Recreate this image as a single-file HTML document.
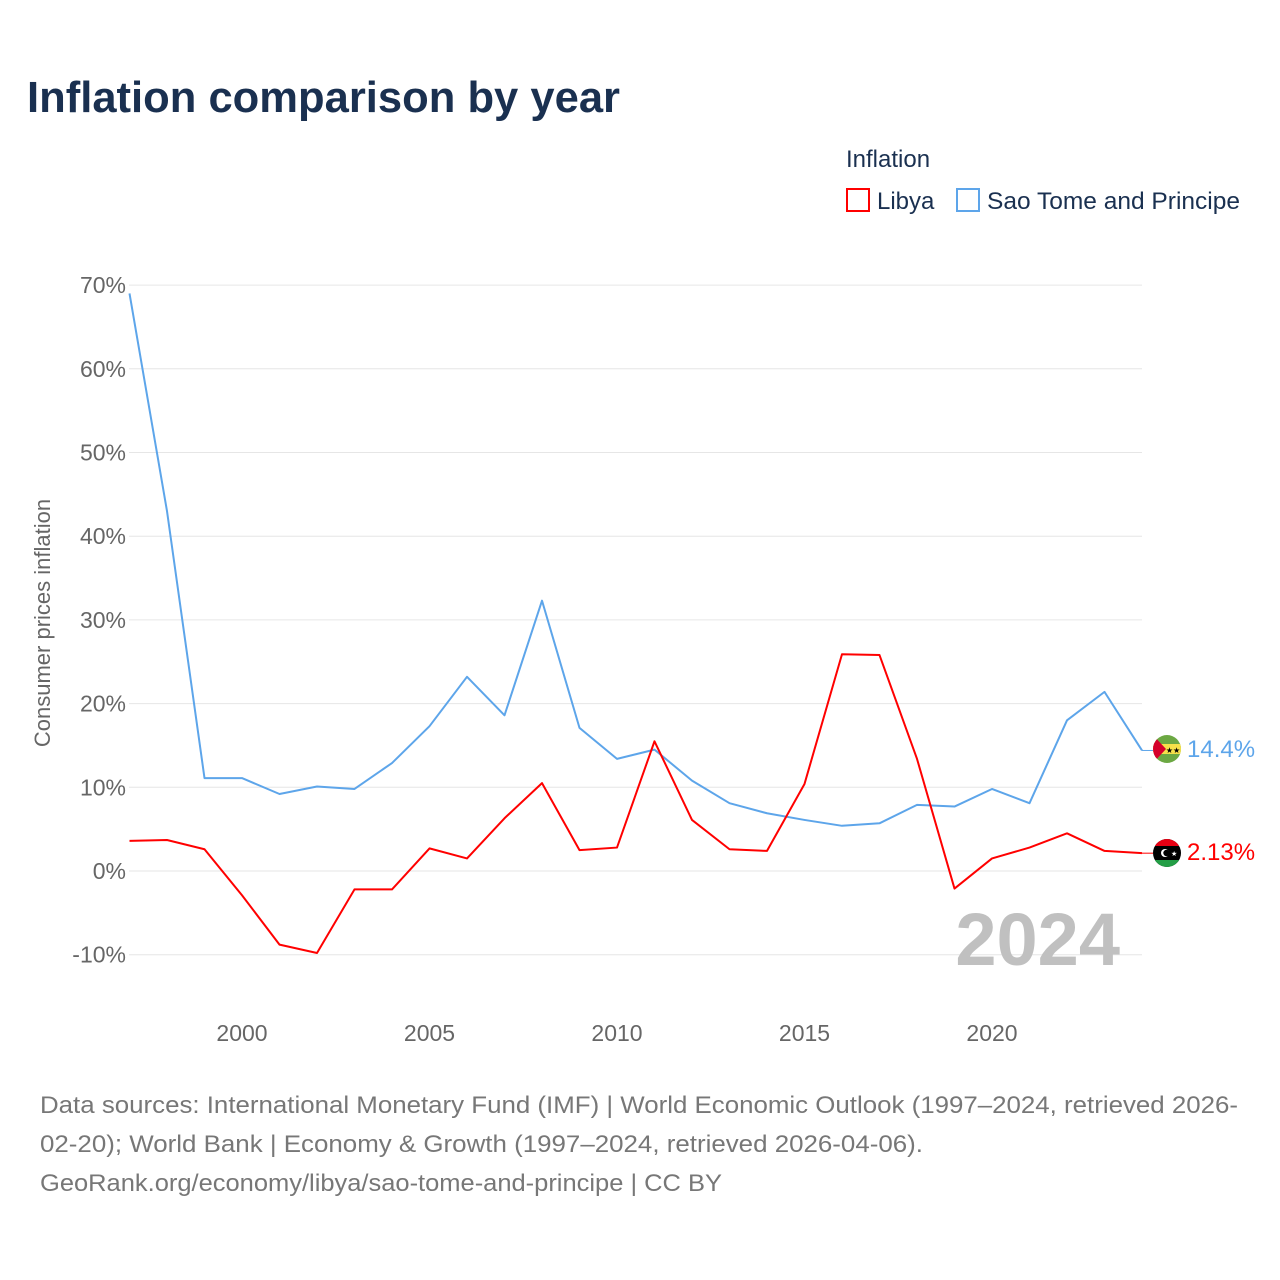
<!DOCTYPE html>
<html><head><meta charset="utf-8">
<style>
body{margin:0;background:#fff;font-family:"Liberation Sans",sans-serif;}
svg{display:block}
</style></head>
<body>
<svg id="chart" width="1280" height="1280" viewBox="0 0 1280 1280">
<text x="27" y="112" font-size="44" font-weight="bold" fill="#1a3050" textLength="593" lengthAdjust="spacingAndGlyphs">Inflation comparison by year</text>
<text x="846" y="167" font-size="24" fill="#1a3050">Inflation</text>
<g><rect x="847" y="189" width="22" height="22" fill="none" stroke="#ff0000" stroke-width="2"/><text x="877" y="209" font-size="24" fill="#1a3050">Libya</text></g>
<g><rect x="957" y="189" width="22" height="22" fill="none" stroke="#5da5ea" stroke-width="2"/><text x="987" y="209" font-size="24" fill="#1a3050" textLength="253" lengthAdjust="spacingAndGlyphs">Sao Tome and Principe</text></g>
<g id="grid"></g>
<text x="1120" y="965" font-size="74" font-weight="bold" fill="#c0c0c0" text-anchor="end">2024</text>
<text transform="translate(50,623) rotate(-90)" font-size="22" fill="#666" text-anchor="middle">Consumer prices inflation</text>
<g id="series"></g>
<g>
<clipPath id="c1"><circle cx="1167" cy="749" r="14"/></clipPath>
<g clip-path="url(#c1)"><rect x="1153" y="735" width="28" height="28" fill="#6ca843"/><rect x="1153" y="744" width="28" height="10" fill="#f5e04a"/><polygon points="1153,735 1166,749 1153,763" fill="#d5002b"/><text x="1173" y="753" font-size="8" fill="#000" text-anchor="middle">★★</text></g></g>
<g>
<clipPath id="c2"><circle cx="1167" cy="853" r="14"/></clipPath>
<g clip-path="url(#c2)"><rect x="1153" y="839" width="28" height="28" fill="#000"/><rect x="1153" y="839" width="28" height="7" fill="#e70013"/><rect x="1153" y="860" width="28" height="7" fill="#239e46"/><circle cx="1165" cy="853" r="4" fill="#fff"/><circle cx="1166.5" cy="853" r="3.2" fill="#000"/><text x="1171" y="856" font-size="7" fill="#fff">★</text></g></g>
<text x="1187" y="757" font-size="24" fill="#5da5ea">14.4%</text>
<text x="1187" y="860" font-size="24" fill="#ff0000">2.13%</text>
<text font-size="24" fill="#777"><tspan x="40" y="1113" textLength="1198" lengthAdjust="spacingAndGlyphs">Data sources: International Monetary Fund (IMF) | World Economic Outlook (1997–2024, retrieved 2026-</tspan><tspan x="40" y="1152" textLength="883" lengthAdjust="spacingAndGlyphs">02-20); World Bank | Economy &amp; Growth (1997–2024, retrieved 2026-04-06).</tspan><tspan x="40" y="1191" textLength="682" lengthAdjust="spacingAndGlyphs">GeoRank.org/economy/libya/sao-tome-and-principe | CC BY</tspan></text>
</svg>
<script>
const years=[1997,1998,1999,2000,2001,2002,2003,2004,2005,2006,2007,2008,2009,2010,2011,2012,2013,2014,2015,2016,2017,2018,2019,2020,2021,2022,2023,2024];
const saoTome=[69,43,11.1,11.1,9.2,10.1,9.8,12.9,17.3,23.2,18.6,32.3,17.1,13.4,14.5,10.8,8.1,6.9,6.1,5.4,5.7,7.9,7.7,9.8,8.1,18.0,21.4,14.4];
const libya=[3.6,3.7,2.6,-2.9,-8.8,-9.8,-2.2,-2.2,2.7,1.5,6.3,10.5,2.5,2.8,15.5,6.1,2.6,2.4,10.4,25.9,25.8,13.4,-2.1,1.5,2.8,4.5,2.4,2.13];
const yTicks=[-10,0,10,20,30,40,50,60,70];
const xTicks=[2000,2005,2010,2015,2020];
const NS="http://www.w3.org/2000/svg";
const xS=y=>129.5+(y-1997)*37.5;
const yS=v=>871-v*8.37;
const grid=document.getElementById('grid'),ser=document.getElementById('series');
function mk(tag,attrs,parent){const e=document.createElementNS(NS,tag);for(const k in attrs)e.setAttribute(k,attrs[k]);parent.appendChild(e);return e;}
yTicks.forEach(t=>{
 const l=mk('line',{x1:129,x2:1142,y1:yS(t),y2:yS(t),stroke:'#e6e6e6','stroke-width':1},grid);
 
 
 const tx=mk('text',{x:126,y:yS(t)+8,'font-size':23,fill:'#666','text-anchor':'end'},grid);
 tx.textContent=t+'%';
 
 
});
xTicks.forEach(t=>{
 const tx=mk('text',{x:xS(t),y:1041,'font-size':23,fill:'#666','text-anchor':'middle'},grid);
 tx.textContent=t;
 
 
});
function line(vals,color,name){
 const p=mk('polyline',{points:vals.map((v,i)=>xS(years[i])+','+yS(v)).join(' '),fill:'none',stroke:color,'stroke-width':2,'stroke-linejoin':'round'},ser);
 
 
 const last=vals[vals.length-1];
 mk('line',{x1:xS(2024),x2:1153,y1:yS(last),y2:yS(last),stroke:color,'stroke-width':1},ser);
}
line(saoTome,'#5da5ea','line-sao-tome');
line(libya,'#ff0000','line-libya');
</script>
</body></html>
